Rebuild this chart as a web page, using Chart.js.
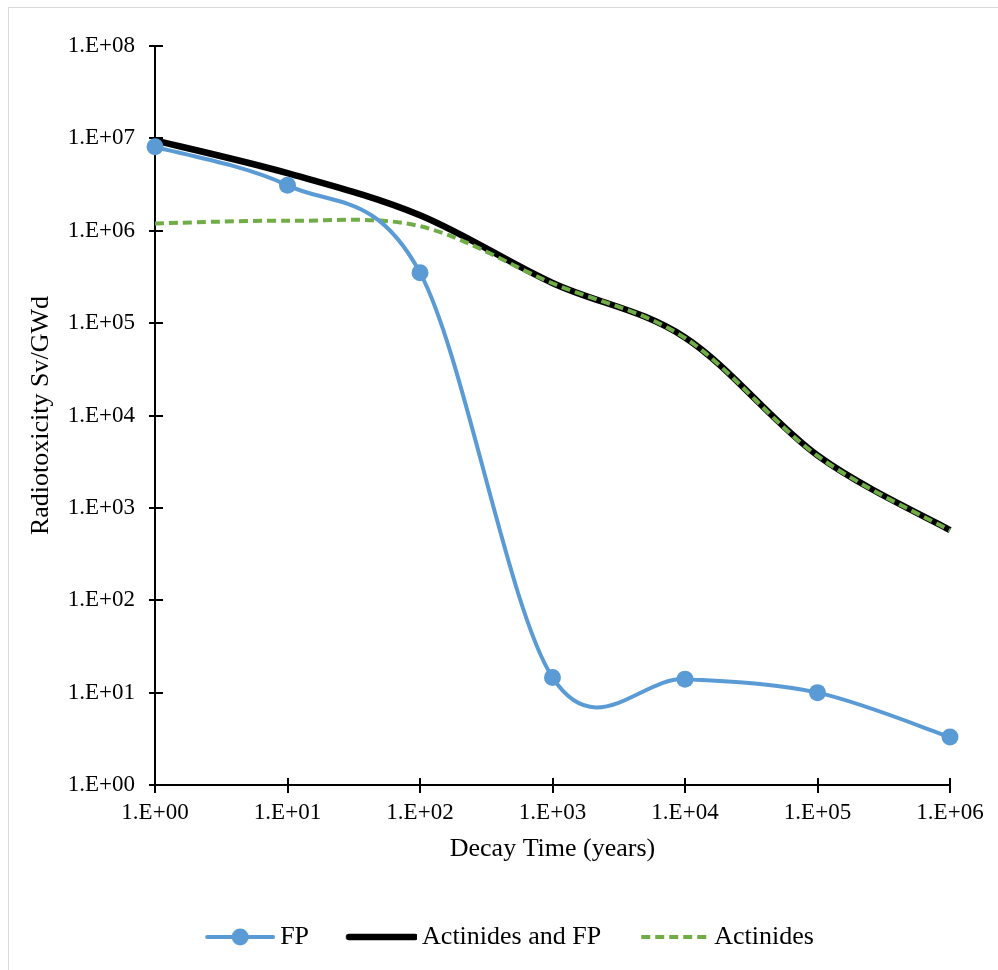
<!DOCTYPE html>
<html>
<head>
<meta charset="utf-8">
<script src="https://cdn.jsdelivr.net/npm/chart.js@4/dist/chart.umd.min.js"></script>
<style>
  html, body { margin: 0; padding: 0; background: #fff; overflow: hidden; }
  #frame { position: absolute; left: 8px; top: 7px; width: 1000px; height: 1000px; border: 1px solid #d9d9d9; }
  #chartBox { position: absolute; left: 0; top: 0; }
</style>
</head>
<body>
<div id="frame"></div>
<canvas id="chartBox" width="998" height="970"></canvas>
<script>
// decay time in years (log axis)
const decayYears = [1, 10, 100, 1000, 10000, 100000, 1000000];
// radiotoxicity Sv/GWd
const fpValues = [8.1e6, 3.1e6, 3.52e5, 14.6, 14.0, 10.0, 3.3];
const totalValues = [9.5e6, 4.2e6, 1.47e6, 2.72e5, 7.0e4, 3.7e3, 575];
const actinideValues = [1.2e6, 1.28e6, 1.12e6, 2.7e5, 6.9e4, 3.65e3, 570];

const xTickValues = [1, 10, 100, 1000, 10000, 100000, 1000000];
const xTickLabels = ["1.E+00", "1.E+01", "1.E+02", "1.E+03", "1.E+04", "1.E+05", "1.E+06"];
const yTickValues = [1, 10, 100, 1000, 10000, 100000, 1000000, 10000000, 100000000];
const yTickLabels = ["1.E+00", "1.E+01", "1.E+02", "1.E+03", "1.E+04", "1.E+05", "1.E+06", "1.E+07", "1.E+08"];

const seriesNames = ["FP", "Actinides and FP", "Actinides"];

const serif = "'Liberation Serif', 'Times New Roman', serif";
const blue = "#5B9BD5";
const green = "#70AD47";

function toPoints(values) {
    return decayYears.map(function (x, i) { return { x: x, y: values[i] }; });
}

// little pictures for the legend: a line sample, with a marker for FP
function legendSample(color, width, dash, marker) {
    const c = document.createElement("canvas");
    c.width = 106;
    c.height = 24;
    const ctx = c.getContext("2d");
    ctx.strokeStyle = color;
    ctx.lineWidth = width;
    ctx.lineCap = dash ? "butt" : "round";
    ctx.setLineDash(dash || []);
    ctx.beginPath();
    ctx.moveTo(38, 12);
    ctx.lineTo(104, 12);
    ctx.stroke();
    if (marker) {
        ctx.fillStyle = color;
        ctx.beginPath();
        ctx.arc(71, 12, 8.5, 0, Math.PI * 2);
        ctx.fill();
    }
    return c;
}

const legendPics = [
    legendSample(blue, 4, null, true),
    legendSample("#000", 6.5, null, false),
    legendSample(green, 4, [9, 5], false)
];

// tick marks crossing the axis lines
const crossTicks = {
    id: "crossTicks",
    beforeDatasetsDraw(chart) {
        const ctx = chart.ctx;
        const area = chart.chartArea;
        const xs = chart.scales.x;
        const ys = chart.scales.y;
        ctx.save();
        ctx.strokeStyle = "#000";
        ctx.lineWidth = 2;
        xTickValues.forEach(function (v) {
            const px = Math.round(xs.getPixelForValue(v));
            ctx.beginPath();
            ctx.moveTo(px, area.bottom - 7);
            ctx.lineTo(px, area.bottom + 8);
            ctx.stroke();
        });
        yTickValues.forEach(function (v) {
            const py = Math.round(ys.getPixelForValue(v));
            ctx.beginPath();
            ctx.moveTo(area.left - 6, py);
            ctx.lineTo(area.left + 8, py);
            ctx.stroke();
        });
        ctx.restore();
    }
};

// Excel style smoothing: plain Catmull-Rom tangents (next - prev) / 6
const excelSpline = {
    id: "excelSpline",
    beforeDatasetDraw(chart, args) {
        const meta = args.meta;
        meta.dataset.updateControlPoints(chart.chartArea, "x");
        const pts = meta.data;
        const n = pts.length;
        for (let i = 0; i < n; i++) {
            const p = pts[i];
            const prev = pts[Math.max(i - 1, 0)];
            const next = pts[Math.min(i + 1, n - 1)];
            const dx = (next.x - prev.x) / 6;
            const dy = (next.y - prev.y) / 6;
            p.cp1x = p.x - dx;
            p.cp1y = p.y - dy;
            p.cp2x = p.x + dx;
            p.cp2y = p.y + dy;
        }
    }
};

const chartData = {
    datasets: [
        {
            label: seriesNames[0],
            data: toPoints(fpValues),
            borderColor: blue,
            backgroundColor: blue,
            borderWidth: 4,
            pointRadius: 8.5,
            pointBorderWidth: 0,
            pointBackgroundColor: blue,
            tension: 0.4,
            clip: false,
            order: 0
        },
        {
            label: seriesNames[1],
            data: toPoints(totalValues),
            borderColor: "#000",
            borderWidth: 6.5,
            pointRadius: 0,
            tension: 0.4,
            clip: false,
            order: 2
        },
        {
            label: seriesNames[2],
            data: toPoints(actinideValues),
            borderColor: green,
            borderWidth: 4,
            borderDash: [9, 5],
            pointRadius: 0,
            tension: 0.4,
            clip: false,
            order: 1
        }
    ]
};

new Chart(document.getElementById("chartBox"), {
    type: "line",
    data: chartData,
    plugins: [crossTicks, excelSpline],
    options: {
        responsive: false,
        animation: false,
        layout: { padding: { left: 41, right: 48, top: 46, bottom: 10 } },
        plugins: {
            tooltip: { enabled: false },
            legend: {
                position: "bottom",
                align: "center",
                labels: {
                    usePointStyle: true,
                    pointStyleWidth: 90,
                    padding: 10,
                    color: "#000",
                    font: { family: serif, size: 26 },
                    generateLabels: function () {
                        return seriesNames.map(function (name, i) {
                            return {
                                text: name,
                                pointStyle: legendPics[i],
                                datasetIndex: i,
                                fontColor: "#000",
                                hidden: false,
                                lineWidth: 0,
                                strokeStyle: "rgba(0,0,0,0)",
                                fillStyle: "rgba(0,0,0,0)"
                            };
                        });
                    }
                }
            }
        },
        scales: {
            x: {
                type: "logarithmic",
                min: 1,
                max: 1000000,
                afterBuildTicks: function (scale) {
                    scale.ticks = xTickValues.map(function (v) { return { value: v }; });
                },
                afterFit: function (scale) { scale.height = 129; },
                ticks: {
                    autoSkip: false,
                    maxRotation: 0,
                    padding: 14,
                    color: "#000",
                    font: { family: serif, size: 23 },
                    callback: function (value, index) { return xTickLabels[index]; }
                },
                grid: { display: false, drawTicks: false, tickLength: 0 },
                border: { display: true, color: "#000", width: 2 },
                title: {
                    display: true,
                    text: "Decay Time (years)",
                    color: "#000",
                    font: { family: serif, size: 26 },
                    padding: { top: 0, bottom: 49 }
                }
            },
            y: {
                type: "logarithmic",
                min: 1,
                max: 100000000,
                afterBuildTicks: function (scale) {
                    scale.ticks = yTickValues.map(function (v) { return { value: v }; });
                },
                afterFit: function (scale) { scale.width = 114; },
                ticks: {
                    autoSkip: false,
                    padding: 20,
                    color: "#000",
                    font: { family: serif, size: 23 },
                    callback: function (value, index) { return yTickLabels[index]; }
                },
                grid: { display: false, drawTicks: false, tickLength: 0 },
                border: { display: true, color: "#000", width: 2 },
                title: {
                    display: true,
                    text: "Radiotoxicity Sv/GWd",
                    color: "#000",
                    font: { family: serif, size: 26 },
                    padding: { top: -15, bottom: 0 }
                }
            }
        }
    }
});
</script>
</body>
</html>
